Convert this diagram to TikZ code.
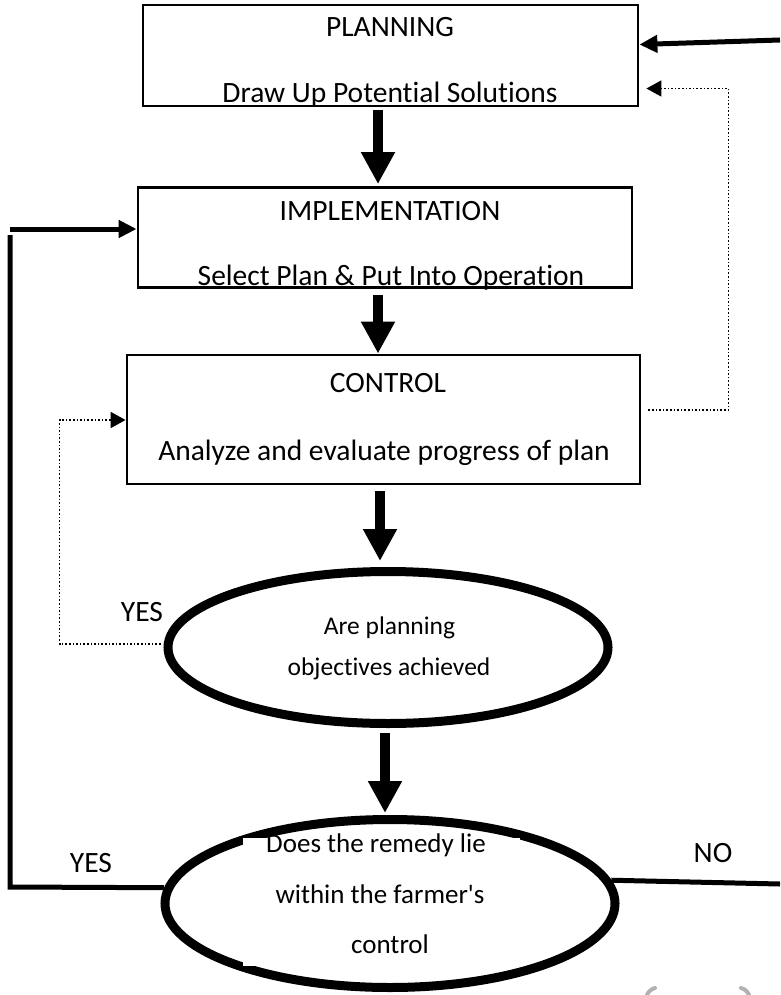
\documentclass[tikz,border=0pt]{standalone}
\usepackage{fontspec}
\setmainfont{Carlito}[Ligatures={TeXOff,CommonOff}]
\usetikzlibrary{arrows.meta,shapes.geometric,calc}
\begin{document}
\begin{tikzpicture}[x=1pt,y=-1pt,
  box/.style={draw=black, line width=2.8pt, inner sep=0pt, fill=white},
  oval/.style={ellipse, draw=black, line width=9pt, inner sep=0pt},
  txt/.style={anchor=base, inner sep=0pt, font=\fontsize{29.5}{34}\selectfont},
  otxt/.style={anchor=base, inner sep=0pt, font=\fontsize{25.5}{30}\selectfont},
  otxtb/.style={anchor=base, inner sep=0pt, font=\fontsize{27}{32}\selectfont},
  textpad/.style={fill=white, inner sep=0pt},
  fat/.style={line width=10pt, -{Triangle[length=32pt,width=32pt]}},
  thick arr/.style={line width=5pt, -{Triangle[length=18pt,width=17pt]}},
  thin line/.style={line width=5pt},
  dotarr/.style={line width=1.6pt, dotted, -{Triangle[length=15pt,width=16pt]}},
  greymark/.style={line width=4pt, gray!60, line cap=round}
]
\useasboundingbox (0,0) rectangle (780,995);

% boxes
\node[box, minimum width=495pt, minimum height=101pt] (plan) at (390.5,55.5) {};
\node[box, minimum width=494pt, minimum height=100pt] (impl) at (385,237.5) {};
\node[box, minimum width=513pt, minimum height=129pt] (ctrl) at (383.5,419.5) {};

% ellipses
\node[oval, minimum width=440pt, minimum height=152pt] (e1) at (388,647.5) {};
\node[oval, minimum width=450pt, minimum height=168pt] (e2) at (390,903.5) {};
\node[textpad, minimum width=277pt, minimum height=128pt] (e2pad) at (381.5,902) {};

% texts
\node[txt] (t1) at (390,37) {PLANNING};
\node[txt] (t2) at (390,103) {Draw Up Potential Solutions};
\node[txt] (t3) at (390,220) {IMPLEMENTATION};
\node[txt] (t4) at (391,285) {Select Plan \& Put Into Operation};
\node[txt] (t5) at (388,392) {CONTROL};
\node[txt] (t6) at (384,460) {Analyze and evaluate progress of plan};
\node[otxt] (t7) at (389.5,634) {Are planning};
\node[otxt] (t8) at (389,675) {objectives achieved};
\node[otxtb] (t9) at (376,852) {Does the remedy lie};
\node[otxtb] (t10) at (380,903) {within the farmer's};
\node[otxtb] (t11) at (390,953) {control};
\node[txt] (yes1) at (142,621) {YES};
\node[txt] (yes2) at (91,872) {YES};
\node[txt] (no) at (713,862) {NO};

% free ends
\coordinate (tr) at (780,40);
\coordinate (br) at (780,884);
\coordinate (lt) at (10,229);
\coordinate (lb) at (10,887);
\coordinate (lv) at (10,235);

% fat down arrows
\draw[fat] ($(plan.south)+(-12.5,3)$) -- ($(impl.north)+(-7,-2)$);
\draw[fat] ($(impl.south)+(-7,6)$) -- ($(ctrl.north)+(-5.5,0)$);
\draw[fat] ($(ctrl.south)+(-3.5,6)$) -- ($(e1.north)+(-8,-6)$);
\draw[fat] ($(e1.south)+(-3,5)$) -- ($(e2.north)+(-5,-2)$);

% top right arrow
\draw[thick arr] (tr) -- ($(plan.east)+(0,-11)$);

% left loop
\draw[thin line] (e2.176) -- (lb) -- (lv);
\draw[thick arr] (lt) -- (lt -| impl.west);

% NO line
\draw[thin line] (e2.6) -- (br);

% dotted feedback
\draw[dotarr] ($(ctrl.east)+(7,-9.5)$) -- ++(80,0) |- ($(plan.east)+(7,33)$);
\draw[dotarr] ($(e1.west)+(-3,-3.5)$) -- ++(-101,0) |- ($(ctrl.west)+(0,0.5)$);

% grey marks at bottom right
\draw[greymark] (647,995) to[bend left=25] (655,988);
\draw[greymark] (741,988) to[bend left=25] (749,995);
\end{tikzpicture}
\end{document}
